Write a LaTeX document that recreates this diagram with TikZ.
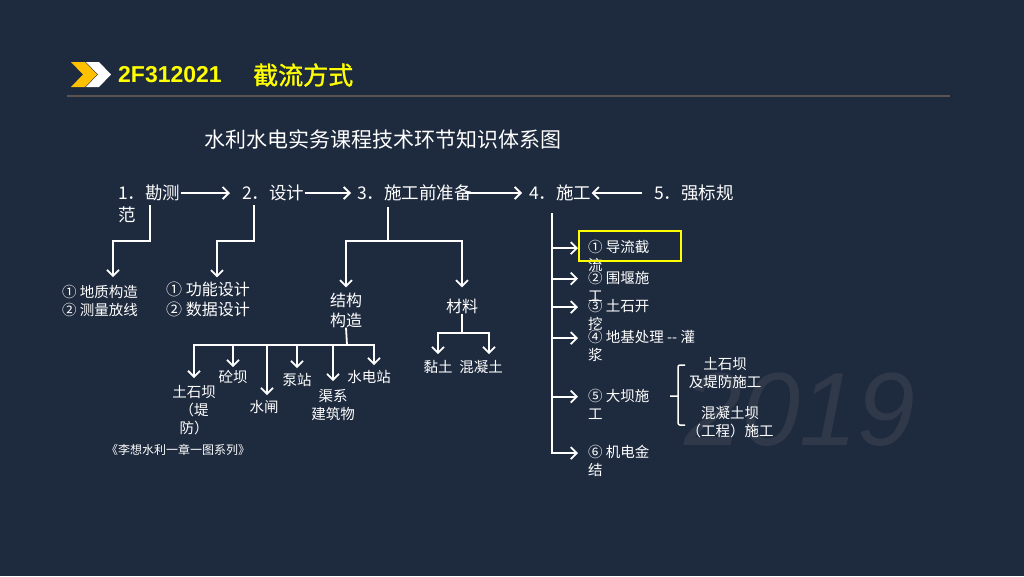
\documentclass[tikz,border=0pt]{standalone}
\usepackage{fontspec}
\setmainfont{Noto Sans CJK SC}
\newfontfamily\headfont[FakeBold=1.2]{Noto Sans CJK SC}
\newfontfamily\codefont{Liberation Sans}
\usetikzlibrary{arrows.meta}

\definecolor{bgnavy}{HTML}{1E2A3E}
\definecolor{wmark}{HTML}{303949}
\definecolor{hline}{HTML}{5A5350}
\definecolor{chevy}{HTML}{FFC000}
\definecolor{titley}{HTML}{FFFF00}

\begin{document}
\begin{tikzpicture}[x=1pt, y=-1pt,
    every node/.style={text=white, inner sep=0pt},
    wire/.style={draw=white, line width=1.8pt},
    arr/.style={wire, -{Straight Barb[length=6pt, width=12pt]}},
    lvlone/.style={font=\fontsize{17.5}{22}\selectfont},
    lvltwo/.style={font=\fontsize{16}{20}\selectfont},
    leaf/.style={font=\fontsize{14.5}{18}\selectfont},
    hlbox/.style={draw=titley, line width=2pt}]

    % Background and page size
    \fill[bgnavy] (0,0) rectangle (1024,576);
    \useasboundingbox (0,0) rectangle (1024,576);

    % Watermark
    \node[text=wmark, font=\codefont\itshape\fontsize{104}{110}\selectfont] (wm) at (800,410) {2019};

    % Header bar
    \fill[chevy] (71,62) -- (85,62) -- (97,74.5) -- (85,87) -- (71,87) -- (83,74.5) -- cycle;
    \fill[white] (86,62) -- (99,62) -- (111,74.5) -- (99,87) -- (86,87) -- (98,74.5) -- cycle;
    \node[anchor=west, text=titley, font=\codefont\bfseries\fontsize{23}{26}\selectfont] (code) at (118,75) {2F312021};
    \node[anchor=west, text=titley, font=\headfont\fontsize{25}{28}\selectfont] (topic) at (253,75) {截流方式};
    \draw[hline, line width=2pt] (67,96) -- (950,96);

    % Title
    \node[font=\fontsize{21}{24}\selectfont] (title) at (383,139) {水利水电实务课程技术环节知识体系图};

    % Main row
    \node[lvlone, anchor=west, align=left] (s1) at (118,204) {1．勘测\\范};
    \node[lvlone, anchor=west] (s2) at (242,193) {2．设计};
    \node[lvlone, anchor=west] (s3) at (357,193) {3．施工前准备};
    \node[lvlone, anchor=west] (s4) at (529,193) {4．施工};
    \node[lvlone, anchor=west] (s5) at (654,193) {5．强标规};

    \draw[arr] (s1.east |- s2.west) -- ([xshift=-12pt]s2.west);
    \draw[arr] (s2.east) -- ([xshift=-6pt]s3.west);
    \draw[arr] ([xshift=-7pt]s3.east) -- ([xshift=-7pt]s4.west);
    \draw[arr] ([xshift=-12pt]s5.west) -- (s4.east);

    % 1. survey
    \node[leaf, anchor=west, align=left] (g1) at (62,301) {① 地质构造\\② 测量放线};
    \coordinate (s1b) at (150,205);
    \coordinate (s1j) at (113,241);
    \draw[arr, shorten >=8pt] (s1b) |- (s1j) -- (s1j |- g1.north);

    % 2. design
    \node[lvltwo, anchor=west, align=left] (g2) at (166,299) {① 功能设计\\② 数据设计};
    \coordinate (s2b) at (254,205);
    \coordinate (s2j) at (217,241);
    \draw[arr, shorten >=4pt] (s2b) |- (s2j) -- (s2j |- g2.north);

    % 3. preparation
    \node[lvltwo, align=center] (jg) at (346,310) {结构\\构造};
    \node[lvltwo] (cl) at (462,306) {材料};
    \coordinate (s3b) at (388,207);
    \coordinate (s3j) at (388,241);
    \draw[wire] (s3b) -- (s3j);
    \draw[arr, shorten >=5pt] (s3j) -| (jg.north);
    \draw[arr, shorten >=11pt] (s3j) -| (cl.north);

    % structures
    \node[leaf, align=center] (n1) at (194,410) {土石坝\\（堤\\防）};
    \node[leaf] (n2) at (233,377) {砼坝};
    \node[leaf] (n3) at (264,407) {水闸};
    \node[leaf] (n4) at (297,380) {泵站};
    \node[leaf, align=center] (n5) at (333,405) {渠系\\建筑物};
    \node[leaf] (n6) at (369,377) {水电站};
    \coordinate (jgj) at (347,345);
    \draw[wire] (jg.south) -- (jgj);
    \foreach \n/\dx/\g in {n1/0/7, n2/0/3, n3/3/5, n4/0/5, n5/0/8, n6/5/5}
        \draw[arr, shorten >=\g pt] (jgj) -| ([xshift=\dx pt]\n.north);

    % materials
    \node[leaf] (m1) at (438,367) {黏土};
    \node[leaf] (m2) at (481,367) {混凝土};
    \coordinate (clj) at (462,333);
    \draw[wire] (cl.south) -- (clj);
    \draw[arr, shorten >=6pt] (clj) -| (m1.north);
    \draw[arr, shorten >=6pt] (clj) -| ([xshift=8pt]m2.north);

    % Caption
    \node[font=\fontsize{12}{14}\selectfont] (cap) at (178,450) {《李想水利一章一图系列》};

    % 4. construction
    \node[leaf, anchor=west, align=left] (r1) at (588,256) {① 导流截\\流};
    \node[leaf, anchor=west, align=left] (r2) at (588,286) {② 围堰施\\工};
    \node[leaf, anchor=west, align=left] (r3) at (588,315) {③ 土石开\\挖};
    \node[leaf, anchor=west, align=left] (r4) at (588,346) {④ 地基处理 -{}- 灌\\浆};
    \node[leaf, anchor=west, align=left] (r5) at (588,404) {⑤ 大坝施\\工};
    \node[leaf, anchor=west, align=left] (r6) at (588,461) {⑥ 机电金\\结};
    \draw[hlbox] ([xshift=-9pt, yshift=9pt]r1.north west) rectangle ++(102,30);

    \coordinate (tk) at (552,213);
    \foreach \i in {1,...,6}
        \coordinate (p\i) at ([xshift=-10pt, yshift=-8pt]r\i.north west);
    \draw[arr] (tk) |- (p6);
    \foreach \i in {1,...,5}
        \draw[arr] (tk |- p\i) -- (p\i);

    % dam construction brace
    \draw[wire, line width=1.5pt, rounded corners=2pt] (670,396) -- (678,396) (685,365) -- (678,365) -- (678,425) -- (685,425);
    \node[leaf, align=center] (d1) at (725,373) {土石坝\\及堤防施工};
    \node[leaf, align=center] (d2) at (730,422) {混凝土坝\\（工程）施工};
\end{tikzpicture}
\end{document}
